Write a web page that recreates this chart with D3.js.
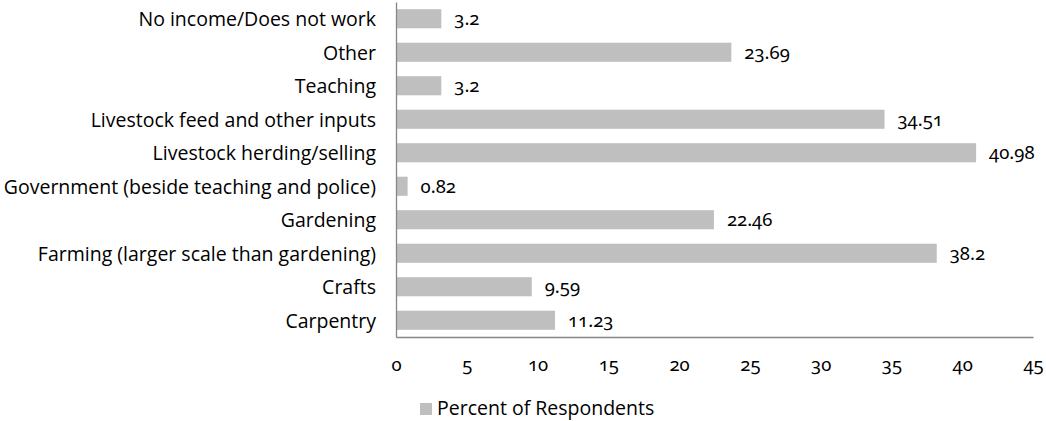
<!DOCTYPE html>
<html>
<head>
<meta charset="utf-8">
<script src="https://cdn.jsdelivr.net/npm/d3@7"></script>
<style>
  html, body { margin: 0; padding: 0; background: #fff; }
  svg { display: block; font-family: "Open Sans", "Noto Sans", sans-serif; }
  .num { font-family: "Noto Sans", "Open Sans", sans-serif; font-feature-settings: "onum" 1; font-variant-numeric: oldstyle-nums; }
</style>
</head>
<body>
<svg id="chart" width="1046" height="421"></svg>
<script>
// Income sources, top to bottom as listed on the chart
const categories = [
  "No income/Does not work",
  "Other",
  "Teaching",
  "Livestock feed and other inputs",
  "Livestock herding/selling",
  "Government (beside teaching and police)",
  "Gardening",
  "Farming (larger scale than gardening)",
  "Crafts",
  "Carpentry"
];
const percents = [3.2, 23.69, 3.2, 34.51, 40.98, 0.82, 22.46, 38.2, 9.59, 11.23];
const xTicks = [0, 5, 10, 15, 20, 25, 30, 35, 40, 45];
const seriesName = "Percent of Respondents";

const svg = d3.select("#chart");
const plotLeft = 396, plotRight = 1033, plotTop = 2, plotBottom = 337;
const labelSize = 19.5, numSize = 18.5;

const x = d3.scaleLinear().domain([0, 45]).range([plotLeft, plotRight]);
const y = d3.scaleBand().domain(categories).range([plotTop, plotBottom]).paddingInner(0.43).paddingOuter(0.215);

const barColor = "#bfbfbf";
const axisColor = "#868686";

// bars
svg.append("g").selectAll("rect")
  .data(categories)
  .join("rect")
  .attr("x", x(0) + 1)
  .attr("y", d => y(d))
  .attr("width", (d, i) => x(percents[i]) - x(0) - 1)
  .attr("height", y.bandwidth())
  .attr("fill", barColor);

// value labels
svg.append("g").selectAll("text")
  .data(categories)
  .join("text")
  .attr("class", "num")
  .attr("x", (d, i) => x(percents[i]) + 13)
  .attr("y", d => y(d) + y.bandwidth() / 2 + 6.5)
  .attr("font-size", numSize)
  .attr("fill", "#000")
  .text((d, i) => String(percents[i]));

// category axis
const yAxis = svg.append("g")
  .attr("transform", `translate(${plotLeft},0)`)
  .call(d3.axisLeft(y).tickSize(0).tickPadding(20));
yAxis.select(".domain").attr("stroke", axisColor).attr("stroke-width", 1.3);
yAxis.selectAll("text").attr("font-size", labelSize).attr("fill", "#000")
  .attr("dy", null).attr("y", 7.5)
  .attr("font-family", "'Open Sans', 'Noto Sans', sans-serif");

// value axis
const xAxis = svg.append("g")
  .attr("transform", `translate(0,${plotBottom})`)
  .call(d3.axisBottom(x).tickValues(xTicks).tickSize(0).tickPadding(21));
xAxis.select(".domain").attr("stroke", axisColor).attr("stroke-width", 1.3);
xAxis.selectAll("text").attr("class", "num").attr("font-size", numSize).attr("fill", "#000");

// legend
const legend = svg.append("g").attr("transform", "translate(420,403)");
legend.append("rect").attr("width", 12).attr("height", 12).attr("fill", barColor);
legend.append("text").attr("x", 17).attr("y", 11.5).attr("font-size", labelSize).attr("fill", "#000").text(seriesName);
</script>
</body>
</html>
